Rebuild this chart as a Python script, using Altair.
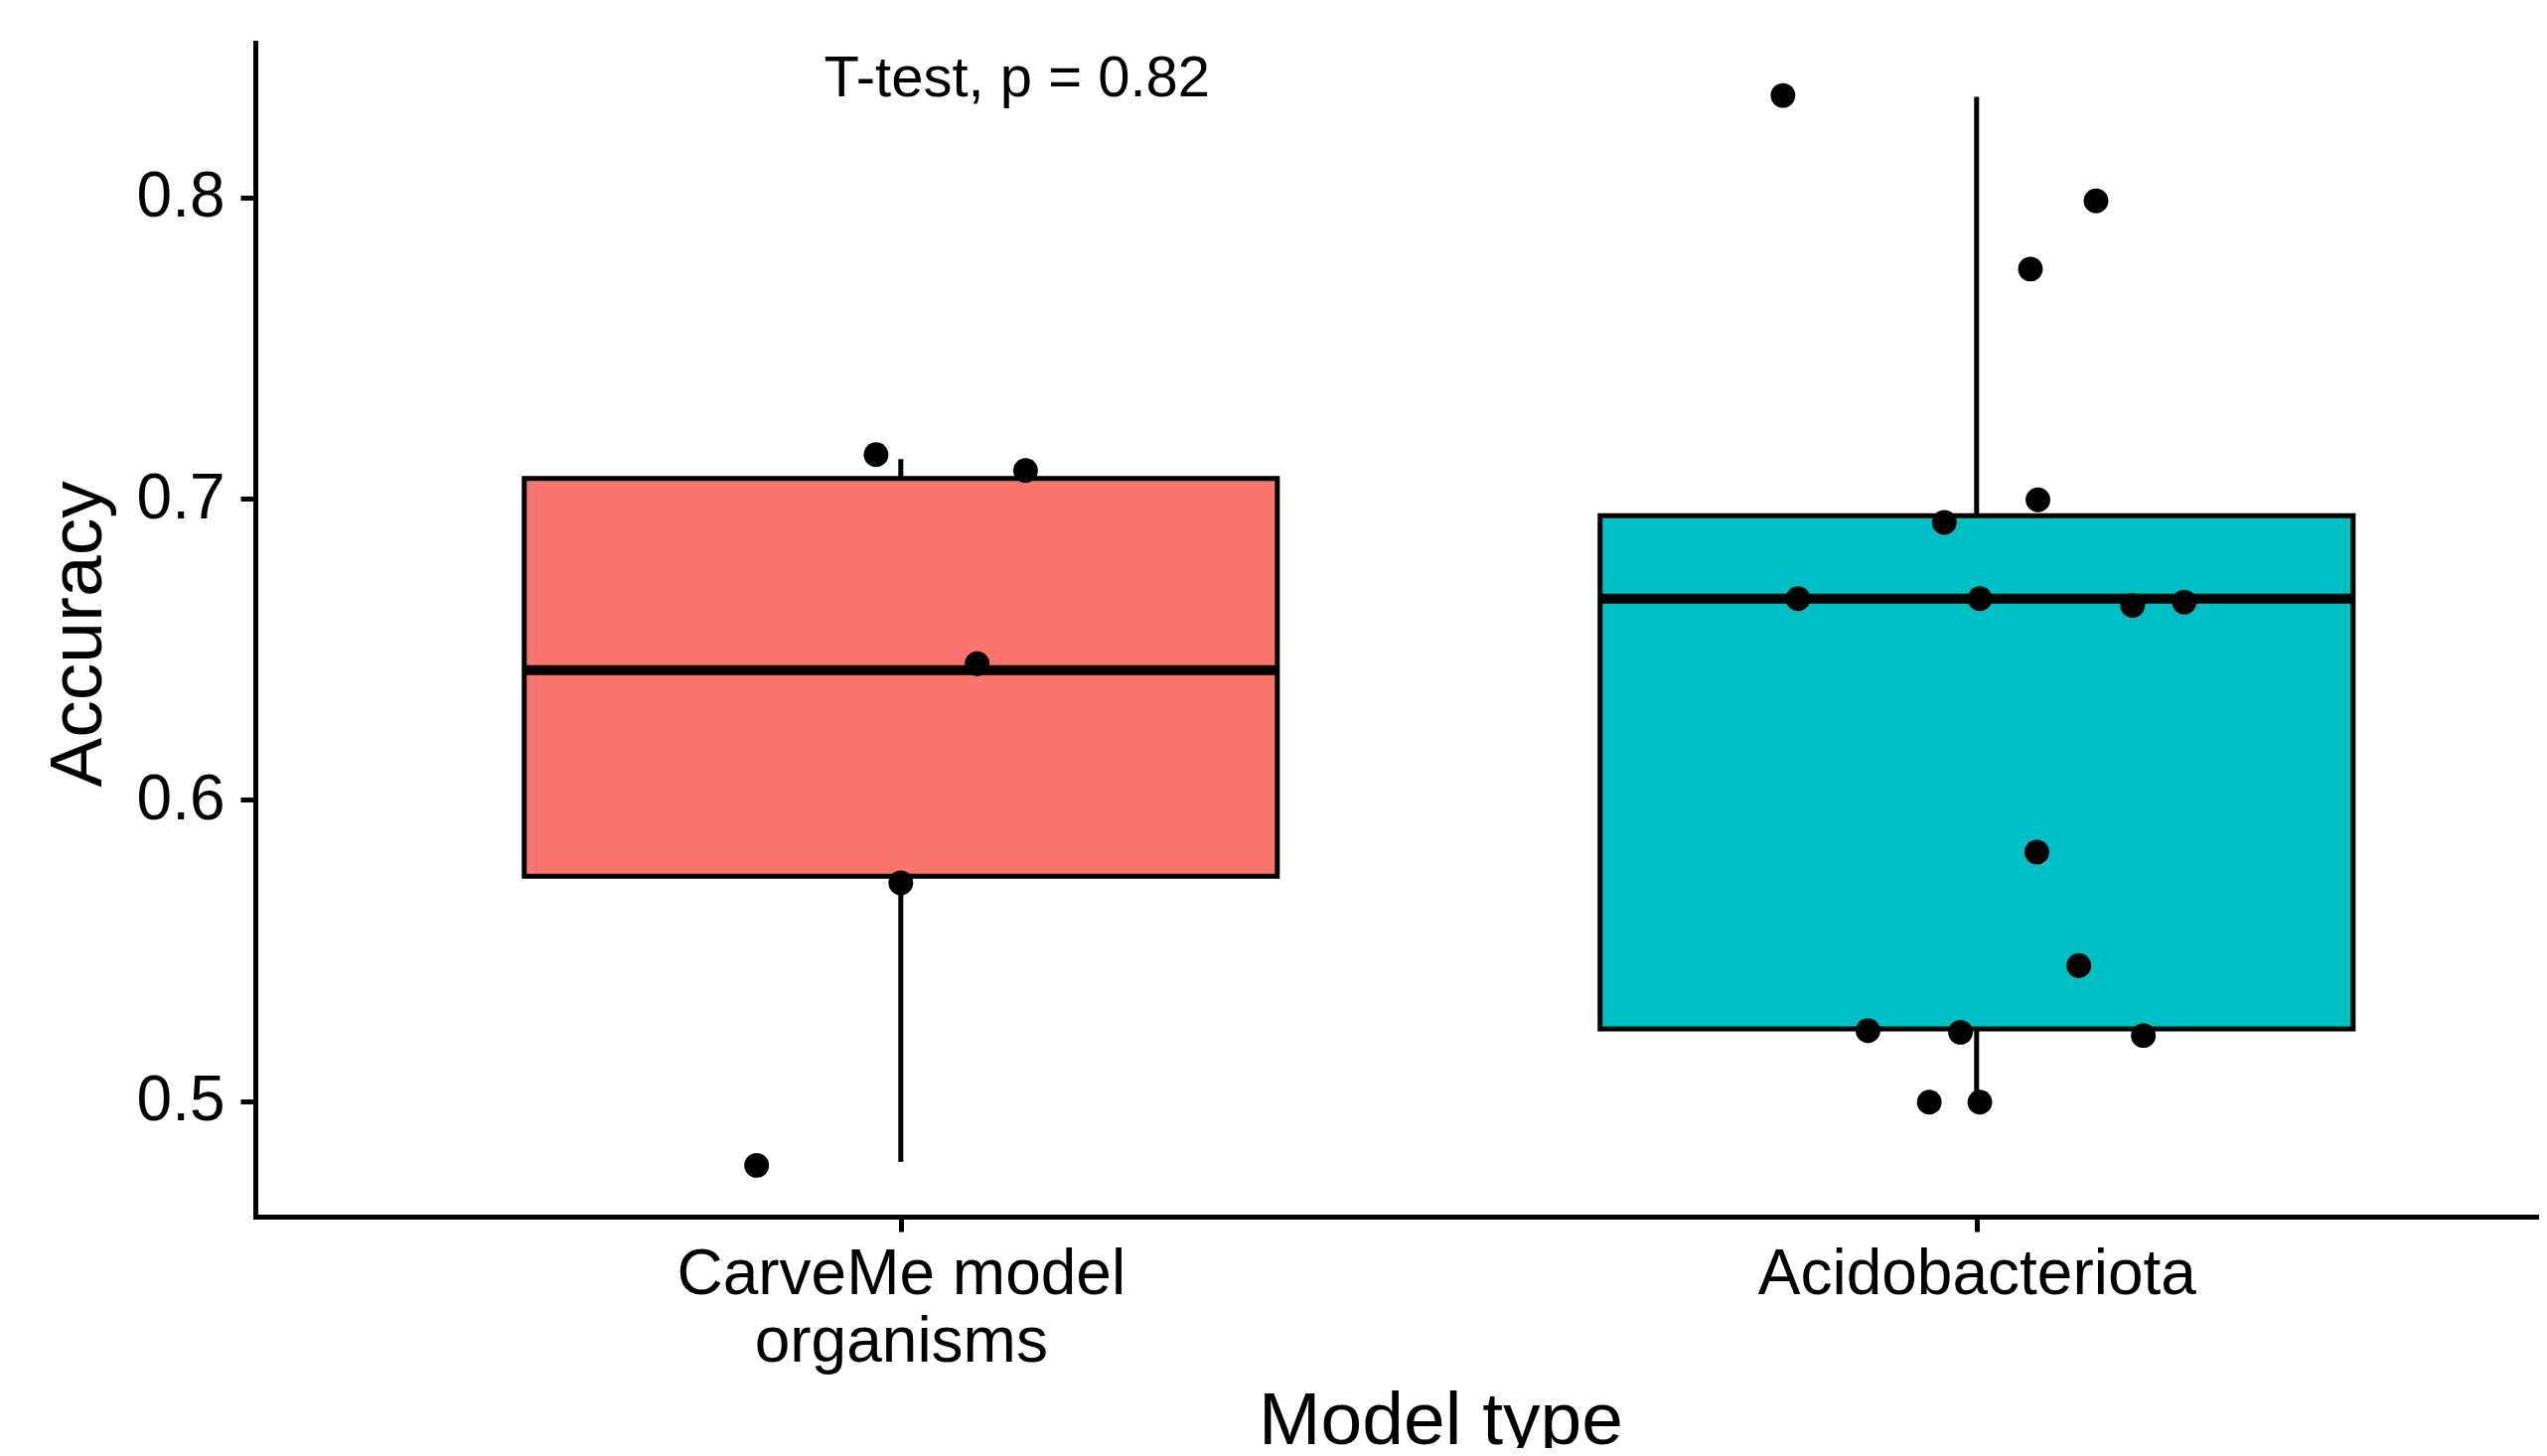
import json
import altair as alt
import pandas as pd

# ---------------- data ----------------
categories = ["CarveMe model\norganisms", "Acidobacteriota"]
box_colors = ["#F8766D", "#00BFC4"]

box_q1 = [0.5747, 0.5240]
box_median = [0.6431, 0.6668]
box_q3 = [0.7067, 0.6943]
whisker_low = [0.4799, 0.4997]
whisker_high = [0.7131, 0.8333]

point_group = [1, 1, 1, 1, 1,
               2, 2, 2, 2, 2, 2, 2, 2, 2, 2, 2, 2, 2, 2, 2, 2]
point_jitter = [-0.023, 0.116, 0.071, 0.000, -0.134,
                -0.180, 0.111, 0.050, 0.057, -0.030, -0.166, 0.003, 0.145,
                0.193, 0.056, 0.095, -0.101, -0.015, 0.155, -0.044, 0.003]
point_accuracy = [0.7146, 0.7093, 0.6452, 0.5725, 0.4787,
                  0.8338, 0.7988, 0.7762, 0.6996, 0.6921, 0.6668, 0.6668, 0.6646,
                  0.6657, 0.5827, 0.5450, 0.5234, 0.5229, 0.5218, 0.4997, 0.4997]

test_label = ["T-test, p = 0.82"]
test_label_x = [1.108]
test_label_y = [0.8336]

y_ticks = [0.5, 0.6, 0.7, 0.8]
x_ticks = [1, 2]

# ---------------- tables ----------------
boxes = pd.DataFrame({
    "pos": [1, 2],
    "group": categories,
    "q1": box_q1,
    "median": box_median,
    "q3": box_q3,
    "wlo": whisker_low,
    "whi": whisker_high,
})
points = pd.DataFrame({
    "pos": point_group,
    "jitter": point_jitter,
    "accuracy": point_accuracy,
})
labels = pd.DataFrame({"text": test_label, "x": test_label_x, "y": test_label_y})

FONT = "Liberation Sans"
HALF = 0.35
LW = 5

x_scale = alt.Scale(domain=[0.4, 2.5228], nice=False, zero=False)
y_scale = alt.Scale(domain=[0.4617, 0.8513], nice=False, zero=False)

label_expr = "split(" + json.dumps(categories) + "[round(datum.value) - 1], '\\n')"

x_axis = alt.Axis(
    values=x_ticks, labelExpr=label_expr, labelLineHeight=68, labelLimit=0,
    labelFontSize=64, labelPadding=11, tickSize=15,
    title="Model type", titleFontSize=75, titleFontWeight="normal",
    titleX=1193, titleY=228, titleBaseline="alphabetic", titleAlign="center",
)
y_axis = alt.Axis(
    values=y_ticks, format=".1f", labelFontSize=64, labelPadding=16, tickSize=15,
    labelBaseline="middle", labelLimit=0,
    title="Accuracy", titleFontSize=75, titleFontWeight="normal",
    titleX=-156, titleY=595, titleBaseline="alphabetic", titleAlign="center",
    titleAngle=270,
)


def X(field):
    return alt.X(field, type="quantitative", scale=x_scale, axis=x_axis, title="Model type")


def Y(field):
    return alt.Y(field, type="quantitative", scale=y_scale, axis=y_axis, title="Accuracy")


base_box = alt.Chart(boxes).transform_calculate(
    lo=f"datum.pos - {HALF}", hi=f"datum.pos + {HALF}"
)

box = base_box.mark_bar(stroke="black", strokeWidth=LW).encode(
    x=X("lo"), x2="hi:Q",
    y=Y("q1"), y2="q3:Q",
    color=alt.Color("group:N", scale=alt.Scale(domain=categories, range=box_colors), legend=None),
)

whisker_lower = base_box.mark_rule(color="black", strokeWidth=LW).encode(
    x=X("pos"), y=Y("wlo"), y2="q1:Q"
)
whisker_upper = base_box.mark_rule(color="black", strokeWidth=LW).encode(
    x=X("pos"), y=Y("q3"), y2="whi:Q"
)
median = base_box.mark_rule(color="black", strokeWidth=2 * LW).encode(
    x=X("lo"), x2="hi:Q", y=Y("median")
)

dots = alt.Chart(points).transform_calculate(
    xp="datum.pos + datum.jitter"
).mark_circle(color="black", opacity=1, size=620).encode(
    x=X("xp"), y=Y("accuracy")
)

annot = alt.Chart(labels).mark_text(
    font=FONT, fontSize=58, color="black", align="center", baseline="alphabetic"
).encode(x=X("x"), y=Y("y"), text="text:N")

chart = alt.layer(whisker_lower, whisker_upper, box, median, dots, annot).properties(
    width=2299, height=1182,
    autosize=alt.AutoSizeParams(type="none"),
    padding={"left": 249, "top": 35, "right": 0, "bottom": 233},
).configure(
    font=FONT,
).configure_view(
    strokeWidth=0,
).configure_axis(
    grid=False,
    domainColor="black", domainWidth=LW, domainCap="square",
    tickColor="black", tickWidth=LW,
    labelColor="black", titleColor="black",
    labelFont=FONT, titleFont=FONT,
)

chart.save("out.html", embed_options={"renderer": "svg", "actions": False})
